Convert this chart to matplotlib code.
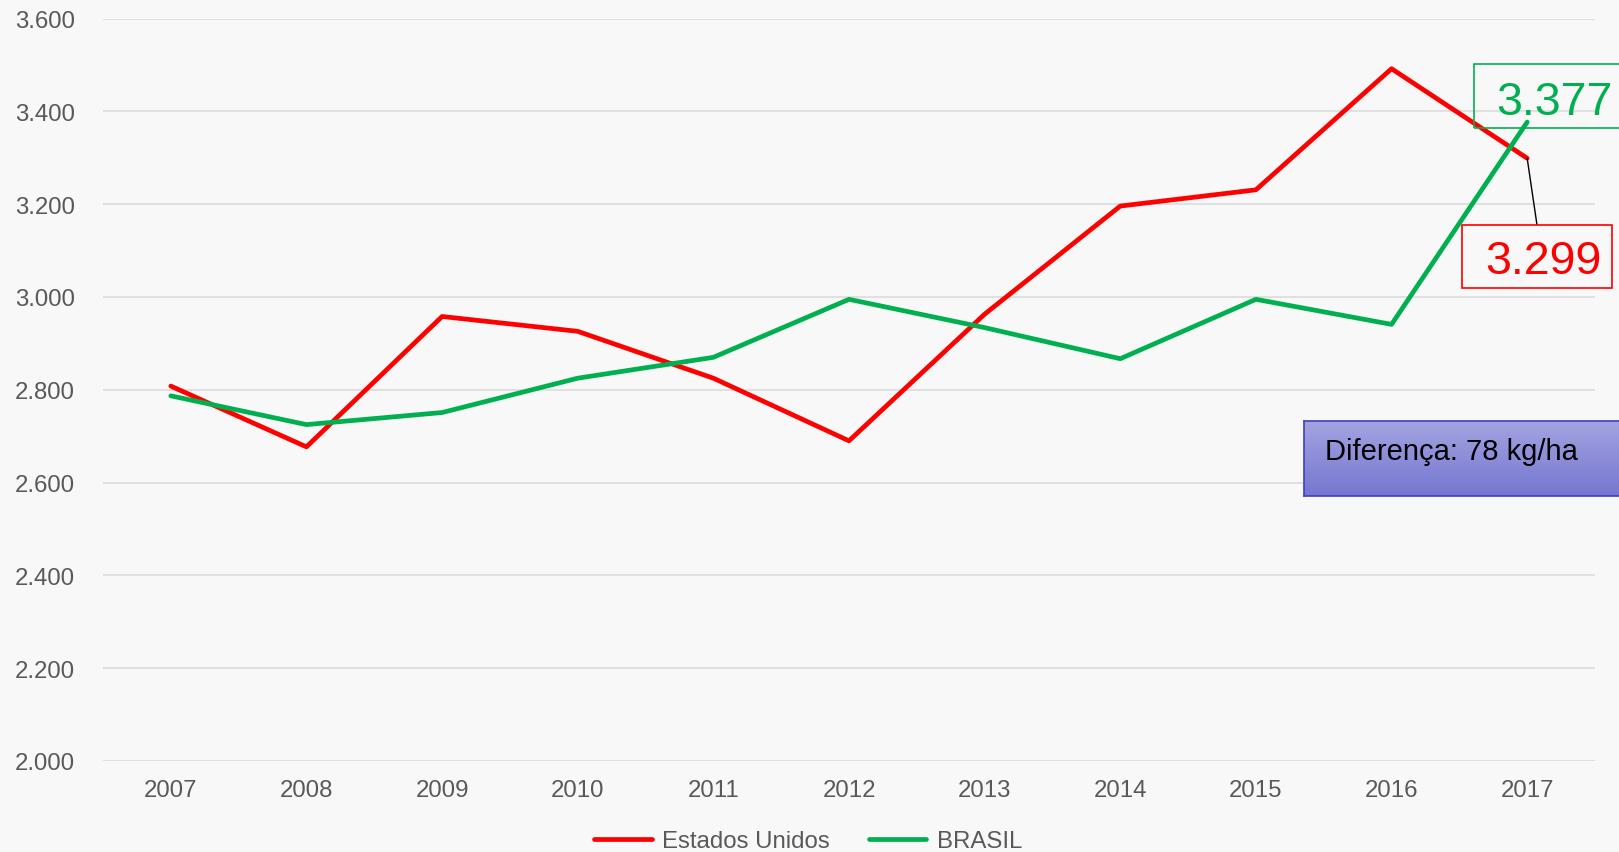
import numpy as np
import matplotlib.pyplot as plt
from matplotlib.patches import Rectangle

# dados (kg/ha)
anos = ['2007', '2008', '2009', '2010', '2011', '2012',
        '2013', '2014', '2015', '2016', '2017']
estados_unidos = [2808, 2677, 2958, 2926, 2825, 2690, 2963, 3196, 3231, 3492, 3299]
brasil = [2787, 2725, 2751, 2825, 2870, 2995, 2934, 2867, 2995, 2941, 3377]
y_ticks = [2000, 2200, 2400, 2600, 2800, 3000, 3200, 3400, 3600]
texto_diferenca = 'Diferença: 78 kg/ha'

W, H = 1619, 853
fundo = '#F8F8F8'
cinza = '#595959'
vermelho = '#FF0000'
verde = '#00B050'

plt.rcParams['font.family'] = ['Liberation Sans', 'DejaVu Sans']


def fx(x):
    return x / W


def fy(y):
    # y medido de cima para baixo em pixels
    return 1 - y / H


fig = plt.figure(figsize=(W / 100, H / 100), dpi=100, facecolor=fundo)
ax = fig.add_axes([fx(103), fy(762), fx(1595 - 103), (762 - 19.6) / H])
ax.set_facecolor(fundo)

x = np.arange(len(anos))
ax.plot(x, estados_unidos, color=vermelho, lw=3.4, label='Estados Unidos',
        solid_capstyle='round', zorder=3)
ax.plot(x, brasil, color=verde, lw=3.4, label='BRASIL',
        solid_capstyle='round', zorder=4)

ax.set_xlim(-0.5, len(anos) - 0.5)
ax.set_ylim(2000, 3600)
ax.set_xticks(x)
ax.set_xticklabels(anos)
ax.set_yticks(y_ticks)
ax.set_yticklabels([f'{v:,}'.replace(',', '.') for v in y_ticks])
ax.tick_params(axis='both', length=0, labelsize=17.3, labelcolor=cinza)
ax.tick_params(axis='y', pad=20)
ax.tick_params(axis='x', pad=13)
ax.grid(axis='y', color='#D9D9D9', lw=1.1)
ax.set_axisbelow(True)
for s in ax.spines.values():
    s.set_visible(False)

# rótulo do Brasil (2017)
fig.add_artist(Rectangle((fx(1474), fy(129)), fx(200), 64 / H,
                         transform=fig.transFigure, fc='none', ec=verde,
                         lw=1.2, zorder=2))
fig.text(fx(1613), fy(115), f'{brasil[-1]:,}'.replace(',', '.'),
         color=verde, fontsize=33.5, ha='right', va='baseline')

# rótulo dos EUA (2017)
fig.add_artist(Rectangle((fx(1462), fy(289)), fx(150), 63 / H,
                         transform=fig.transFigure, fc=fundo, ec=vermelho,
                         lw=1.2, zorder=2))
fig.text(fx(1602), fy(274), f'{estados_unidos[-1]:,}'.replace(',', '.'),
         color=vermelho, fontsize=33.5, ha='right', va='baseline')
ax.annotate('', xy=(x[-1], estados_unidos[-1]), xytext=(1537, H - 226),
            textcoords='figure pixels',
            arrowprops=dict(arrowstyle='-', color='black', lw=1,
                            shrinkA=0, shrinkB=0), zorder=5)

# caixa da diferença com gradiente
bx = fig.add_axes([fx(1304), fy(497), fx(W + 10 - 1304), 75 / H])
grad = np.linspace(0, 1, 100).reshape(-1, 1)
c_top = np.array([164, 164, 226]) / 255
c_bot = np.array([118, 118, 208]) / 255
img = c_top + grad[:, :, None] * (c_bot - c_top)
bx.imshow(img, aspect='auto', extent=[0, 1, 0, 1])
bx.set_xticks([])
bx.set_yticks([])
for s in bx.spines.values():
    s.set_color('#3F3FBF')
    s.set_linewidth(1.2)
fig.text(fx(1325), fy(460), texto_diferenca, color='black', fontsize=21,
         ha='left', va='baseline')

fig.legend(loc='center', bbox_to_anchor=(0.499, fy(842)), ncol=2,
           frameon=False, fontsize=17.3, handlelength=2.4, handletextpad=0.42,
           columnspacing=1.64, labelcolor=cinza)

fig.savefig('out.png', dpi=100, facecolor=fundo)
